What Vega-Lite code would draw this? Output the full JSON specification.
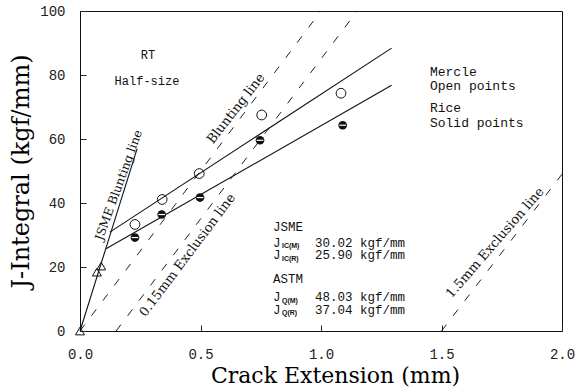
{
  "$schema": "https://vega.github.io/schema/vega-lite/v6.json",
  "width": 482,
  "height": 320,
  "autosize": {"type": "none"},
  "padding": {"left": 80, "top": 11, "right": 16, "bottom": 58},
  "background": "white",
  "config": {
    "view": {"stroke": "#111", "strokeWidth": 1},
    "axis": {"grid": false, "domain": false, "ticks": true, "tickColor": "#222", "tickWidth": 1, "tickSize": -6, "labelColor": "#222", "labelFont": "Liberation Mono", "labelFontSize": 14, "titleFontWeight": "normal", "titleColor": "#000"}
  },
  "datasets": {
    "lines": [
      {"series": "JSME blunting", "a": 0, "J": 0},
      {"series": "JSME blunting", "a": 0.237, "J": 57},
      {"series": "Mercle fit", "a": 0.124, "J": 30.9},
      {"series": "Mercle fit", "a": 1.293, "J": 88.4},
      {"series": "Rice fit", "a": 0.108, "J": 25.7},
      {"series": "Rice fit", "a": 1.293, "J": 76.8}
    ],
    "dashed": [
      {"series": "Blunting", "a": 0, "J": 0},
      {"series": "Blunting", "a": 1.0, "J": 100},
      {"series": "Excl 0.15", "a": 0.15, "J": 0},
      {"series": "Excl 0.15", "a": 1.15, "J": 100},
      {"series": "Excl 1.5", "a": 1.5, "J": 0},
      {"series": "Excl 1.5", "a": 2.0, "J": 49}
    ],
    "mercle": [
      {"a": 0.228, "J": 33.3},
      {"a": 0.341, "J": 41.1},
      {"a": 0.495, "J": 49.2},
      {"a": 0.754, "J": 67.5},
      {"a": 1.083, "J": 74.3}
    ],
    "rice": [
      {"a": 0.228, "J": 29.2},
      {"a": 0.339, "J": 36.4},
      {"a": 0.498, "J": 41.7},
      {"a": 0.747, "J": 59.6},
      {"a": 1.09, "J": 64.3}
    ],
    "jsme": [
      {"a": 0, "J": 0},
      {"a": 0.07, "J": 18.4},
      {"a": 0.088, "J": 20.3}
    ],
    "topnotes": [
      {"a": 0.282, "J": 86.2, "label": "RT"},
      {"a": 0.278, "J": 78.1, "label": "Half-size"}
    ],
    "legendnotes": [
      {"a": 1.452, "J": 80.9, "label": "Mercle"},
      {"a": 1.452, "J": 76.5, "label": "Open points"},
      {"a": 1.452, "J": 69.6, "label": "Rice"},
      {"a": 1.452, "J": 64.9, "label": "Solid points"}
    ],
    "resultnotes": [
      {"a": 0.801, "J": 32.4, "label": "JSME"},
      {"a": 0.801, "J": 27.6, "label": "J"},
      {"a": 0.801, "J": 23.7, "label": "J"},
      {"a": 0.801, "J": 16.2, "label": "ASTM"},
      {"a": 0.801, "J": 10.6, "label": "J"},
      {"a": 0.801, "J": 6.7, "label": "J"},
      {"a": 0.975, "J": 27.6, "label": "30.02 kgf/mm"},
      {"a": 0.975, "J": 23.7, "label": "25.90 kgf/mm"},
      {"a": 0.975, "J": 10.6, "label": "48.03 kgf/mm"},
      {"a": 0.975, "J": 6.7, "label": "37.04 kgf/mm"}
    ],
    "subscripts": [
      {"a": 0.838, "J": 26.5, "label": "IC(M)"},
      {"a": 0.838, "J": 22.6, "label": "IC(R)"},
      {"a": 0.838, "J": 9.5, "label": "Q(M)"},
      {"a": 0.838, "J": 5.6, "label": "Q(R)"}
    ],
    "lbl_jsme": [{"a": 0.16, "J": 45.6, "label": "JSME Blunting line"}],
    "lbl_blunt": [{"a": 0.647, "J": 69.5, "label": "Blunting line"}],
    "lbl_excl015": [{"a": 0.446, "J": 23.7, "label": "0.15mm Exclusion line"}],
    "lbl_excl15": [{"a": 1.722, "J": 27.6, "label": "1.5mm Exclusion line"}]
  },
  "encoding": {
    "x": {"field": "a", "type": "quantitative", "scale": {"domain": [0, 2], "nice": false, "zero": false},
      "axis": {"values": [0, 0.5, 1, 1.5, 2], "format": ".1f", "labelPadding": 22, "title": "Crack Extension (mm)", "titleFont": "DejaVu Serif", "titleFontSize": 22, "titlePadding": 4, "titleX": 255, "labelFlush": false}},
    "y": {"field": "J", "type": "quantitative", "scale": {"domain": [0, 100], "nice": false},
      "axis": {"values": [0, 20, 40, 60, 80, 100], "labelPadding": 21, "title": "J-Integral (kgf/mm)", "titleFont": "DejaVu Serif", "titleFontSize": 24, "titlePadding": 6, "labelFlush": false}}
  },
  "layer": [
    {"data": {"name": "dashed"}, "mark": {"type": "line", "color": "#222", "strokeWidth": 1, "strokeDash": [8, 11], "clip": true}, "encoding": {"detail": {"field": "series"}}},
    {"data": {"name": "lines"}, "mark": {"type": "line", "color": "#111", "strokeWidth": 1.1}, "encoding": {"detail": {"field": "series"}}},
    {"data": {"name": "mercle"}, "mark": {"type": "point", "shape": "circle", "filled": false, "color": "#111", "size": 95, "strokeWidth": 1, "opacity": 1}},
    {"data": {"name": "rice"}, "mark": {"type": "point", "shape": "circle", "filled": true, "color": "#111", "size": 75, "opacity": 1}},
    {"data": {"name": "rice"}, "mark": {"type": "point", "shape": "stroke", "filled": false, "color": "white", "size": 45, "strokeWidth": 1.2, "opacity": 1}},
    {"data": {"name": "jsme"}, "mark": {"type": "point", "shape": "triangle-up", "filled": false, "color": "#111", "size": 80, "strokeWidth": 1, "opacity": 1}},
    {"data": {"name": "topnotes"}, "mark": {"type": "text", "font": "Liberation Mono", "fontSize": 12, "align": "center", "baseline": "middle", "color": "#111"}, "encoding": {"text": {"field": "label"}}},
    {"data": {"name": "legendnotes"}, "mark": {"type": "text", "font": "Liberation Mono", "fontSize": 13, "align": "left", "baseline": "middle", "color": "#111"}, "encoding": {"text": {"field": "label"}}},
    {"data": {"name": "resultnotes"}, "mark": {"type": "text", "font": "Liberation Mono", "fontSize": 12.5, "align": "left", "baseline": "middle", "color": "#111"}, "encoding": {"text": {"field": "label"}}},
    {"data": {"name": "subscripts"}, "mark": {"type": "text", "font": "Liberation Sans", "fontSize": 7, "fontWeight": "bold", "align": "left", "baseline": "middle", "color": "#111"}, "encoding": {"text": {"field": "label"}}},
    {"data": {"name": "lbl_jsme"}, "mark": {"type": "text", "font": "DejaVu Serif", "fontSize": 12, "angle": -70, "align": "center", "baseline": "middle", "color": "#111"}, "encoding": {"text": {"field": "label"}}},
    {"data": {"name": "lbl_blunt"}, "mark": {"type": "text", "font": "DejaVu Serif", "fontSize": 13, "angle": -52, "align": "center", "baseline": "middle", "color": "#111"}, "encoding": {"text": {"field": "label"}}},
    {"data": {"name": "lbl_excl015"}, "mark": {"type": "text", "font": "DejaVu Serif", "fontSize": 13, "angle": -53, "align": "center", "baseline": "middle", "color": "#111"}, "encoding": {"text": {"field": "label"}}},
    {"data": {"name": "lbl_excl15"}, "mark": {"type": "text", "font": "DejaVu Serif", "fontSize": 13, "angle": -49, "align": "center", "baseline": "middle", "color": "#111"}, "encoding": {"text": {"field": "label"}}}
  ]
}
